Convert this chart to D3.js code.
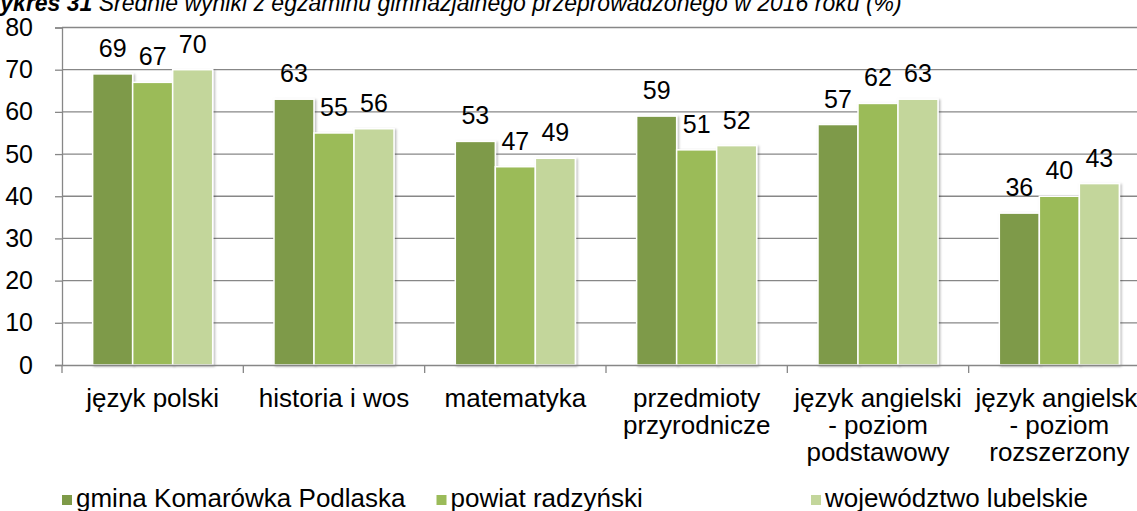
<!DOCTYPE html>
<html>
<head>
<meta charset="utf-8">
<script src="https://cdn.jsdelivr.net/npm/d3@7"></script>
<style>
  html, body { margin: 0; padding: 0; background: #fff; }
  svg { display: block; font-family: Arial, "Liberation Sans", sans-serif; }
</style>
</head>
<body>
<svg id="chart" width="1137" height="511"></svg>
<script>
// Średnie wyniki egzaminu gimnazjalnego 2016 (%)
const categories = [
  "język polski",
  "historia i wos",
  "matematyka",
  "przedmioty\nprzyrodnicze",
  "język angielski\n- poziom\npodstawowy",
  "język angielski\n- poziom\nrozszerzony"
];
const seriesNames = ["gmina Komarówka Podlaska", "powiat radzyński", "województwo lubelskie"];
const gmina = [69, 63, 53, 59, 57, 36];
const powiat = [67, 55, 47, 51, 62, 40];
const wojewodztwo = [70, 56, 49, 52, 63, 43];
const yTicks = [0, 10, 20, 30, 40, 50, 60, 70, 80];
const colors = ["#7e9a48", "#9bbb59", "#c3d69b"];

const seriesValues = [gmina, powiat, wojewodztwo];
const rows = categories.map((c, i) => ({
  cat: c,
  vals: seriesNames.map((s, j) => ({ key: s, value: seriesValues[j][i], color: colors[j] }))
}));

const svg = d3.select("#chart");

const plotLeft = 62, plotRight = 1150, plotTop = 27.5, plotBottom = 365;

const x = d3.scaleBand().domain(categories).range([plotLeft, plotRight]).padding(0);
const bw = x.bandwidth();
const xg = d3.scaleBand().domain(seriesNames).range([bw * 0.169, bw * 0.831]).padding(0);
const y = d3.scaleLinear().domain([0, 80]).range([plotBottom, plotTop]);

// soft shadow behind the bars
const defs = svg.append("defs");
const f = defs.append("filter").attr("id", "shadow").attr("x", "-20%").attr("y", "-5%").attr("width", "140%").attr("height", "115%");
f.append("feDropShadow").attr("dx", 1.5).attr("dy", 1).attr("stdDeviation", 1.3)
  .attr("flood-color", "#000").attr("flood-opacity", 0.28);

// title (its upper part runs past the top edge)
const title = svg.append("text")
  .attr("x", -21).attr("y", 11)
  .attr("font-size", 23).attr("font-style", "italic").attr("fill", "#000");
title.append("tspan").attr("font-weight", "bold").text("Wykres 31 ");
title.append("tspan").text("Średnie wyniki z egzaminu gimnazjalnego przeprowadzonego w 2016 roku (%)");

// horizontal gridlines
svg.append("g")
  .selectAll("line")
  .data(yTicks.filter(d => d > 0))
  .join("line")
  .attr("x1", plotLeft).attr("x2", 1137)
  .attr("y1", d => y(d)).attr("y2", d => y(d))
  .attr("stroke", "#878787").attr("stroke-width", 1.3);

// y axis
const yAxis = d3.axisLeft(y).tickValues(yTicks).tickSize(7).tickPadding(22).tickFormat(d3.format("d"));
const gy = svg.append("g").attr("transform", `translate(${plotLeft},0)`).call(yAxis);
gy.select(".domain").attr("stroke", "#878787").attr("stroke-width", 1.3);
gy.selectAll(".tick line").attr("stroke", "#878787").attr("stroke-width", 1.3);
gy.selectAll(".tick text").attr("font-size", 25).attr("font-family", "Arial, 'Liberation Sans', sans-serif").attr("fill", "#000");

// bars
const groups = svg.append("g").selectAll("g")
  .data(rows)
  .join("g")
  .attr("transform", d => `translate(${x(d.cat)},0)`);

groups.selectAll("rect")
  .data(d => d.vals)
  .join("rect")
  .attr("x", d => xg(d.key))
  .attr("width", xg.bandwidth())
  .attr("y", d => y(d.value))
  .attr("height", d => y(0) - y(d.value))
  .attr("fill", d => d.color)
  .attr("stroke", "#fff")
  .attr("stroke-width", 1.5)
  .attr("filter", "url(#shadow)");

// value labels
groups.selectAll("text.val")
  .data(d => d.vals)
  .join("text")
  .attr("class", "val")
  .attr("x", d => xg(d.key) + xg.bandwidth() / 2)
  .attr("y", d => y(d.value) - 17)
  .attr("text-anchor", "middle")
  .attr("font-size", 25)
  .attr("fill", "#000")
  .text(d => d.value);

// x axis line and category ticks
const xAxis = d3.axisBottom(x).tickSize(0).tickFormat("");
const gx = svg.append("g").attr("transform", `translate(0,${plotBottom})`).call(xAxis);
gx.select(".domain").attr("stroke", "#878787").attr("stroke-width", 1.3);
svg.append("g").selectAll("line")
  .data(categories.map(c => x(c)))
  .join("line")
  .attr("x1", d => d).attr("x2", d => d)
  .attr("y1", plotBottom).attr("y2", plotBottom + 8)
  .attr("stroke", "#878787").attr("stroke-width", 1.3);

// category labels, wrapped on explicit line breaks
const catLabels = svg.append("g").selectAll("text")
  .data(categories)
  .join("text")
  .attr("x", d => x(d) + bw / 2)
  .attr("y", 407)
  .attr("text-anchor", "middle")
  .attr("font-size", 26)
  .attr("fill", "#000");
catLabels.selectAll("tspan")
  .data(d => d.split("\n").map(line => ({ line, cx: x(d) + bw / 2 })))
  .join("tspan")
  .attr("x", d => d.cx)
  .attr("dy", (d, i) => i === 0 ? 0 : 27)
  .text(d => d.line);

// legend: equal-width slots in one row
const legendX = d3.scalePoint().domain(seriesNames).range([62, 811]);
const legend = svg.append("g").selectAll("g")
  .data(seriesNames)
  .join("g")
  .attr("transform", d => `translate(${legendX(d)},0)`);
legend.append("rect")
  .attr("x", 0).attr("y", 495).attr("width", 10).attr("height", 10)
  .attr("fill", (d, i) => colors[i]);
legend.append("text")
  .attr("x", 14).attr("y", 507)
  .attr("font-size", 26)
  .attr("fill", "#000")
  .text(d => d);
</script>
</body>
</html>
